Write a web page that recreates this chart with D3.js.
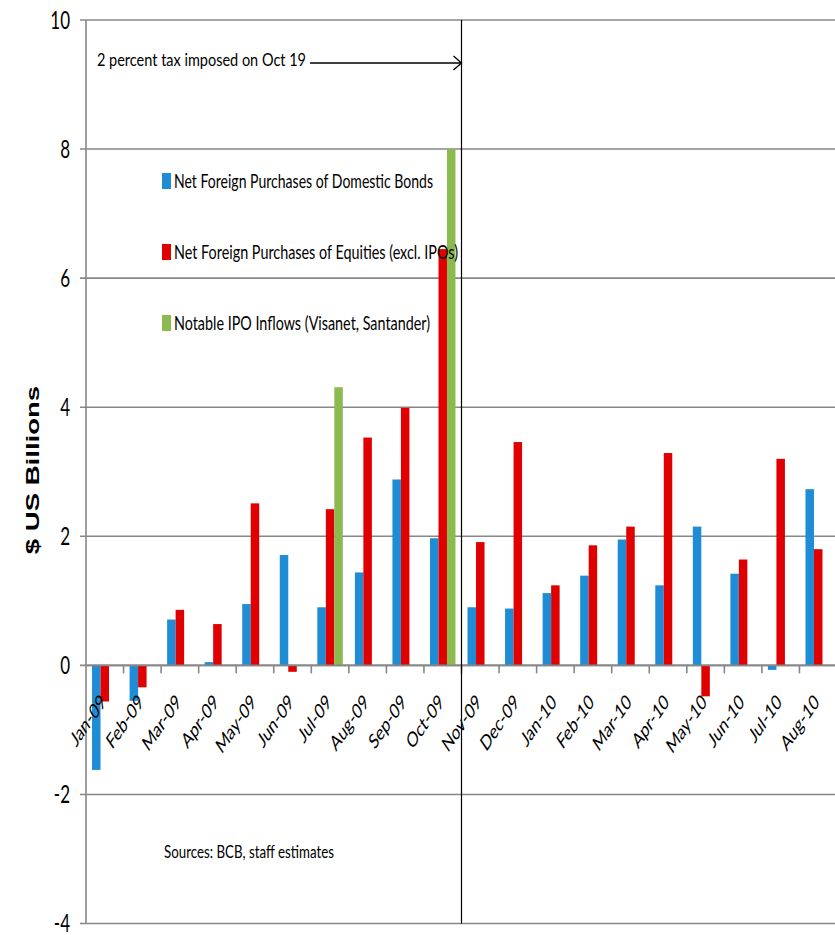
<!DOCTYPE html>
<html>
<head>
<meta charset="utf-8">
<script src="https://cdn.jsdelivr.net/npm/d3@7"></script>
<style>
  html, body { margin: 0; padding: 0; background: #fff; }
  svg { display: block; }
  text { font-family: Lato, "Open Sans", "Liberation Sans", sans-serif; fill: #000; }
</style>
</head>
<body>
<svg id="chart" width="835" height="935"></svg>
<script>
// Monthly foreign portfolio flows into Brazil, $ US billions
const months = ["Jan-09","Feb-09","Mar-09","Apr-09","May-09","Jun-09","Jul-09","Aug-09","Sep-09","Oct-09",
                "Nov-09","Dec-09","Jan-10","Feb-10","Mar-10","Apr-10","May-10","Jun-10","Jul-10","Aug-10"];
const bonds    = [-1.62,-0.55,0.71,0.05,0.95,1.71,0.90,1.44,2.88,1.97,0.90,0.88,1.12,1.39,1.95,1.24,2.15,1.42,-0.07,2.73];
const equities = [-0.56,-0.34,0.86,0.64,2.51,-0.10,2.42,3.53,3.99,6.45,1.91,3.46,1.24,1.86,2.15,3.29,-0.48,1.64,3.20,1.80];
const ipos     = [null,null,null,null,null,null,4.31,null,null,8.00,null,null,null,null,null,null,null,null,null,null];
const seriesNames = ["Net Foreign Purchases of Domestic Bonds",
                     "Net Foreign Purchases of Equities (excl. IPOs)",
                     "Notable IPO Inflows (Visanet, Santander)"];
const seriesColors = ["#1f8dd6", "#e00000", "#8bbb4f"];
const yTicks = [-4, -2, 0, 2, 4, 6, 8, 10];
const taxNote = "2 percent tax imposed on Oct 19";
const sourceNote = "Sources: BCB, staff estimates";

const svg = d3.select("#chart");
const plotLeft = 86, plotRight = 837, plotTop = 20, plotBottom = 923.5;
const S = 1.45; // tall, narrow lettering used throughout

const x = d3.scaleBand().domain(months).range([plotLeft, plotRight]).paddingInner(0).paddingOuter(0);
const xs = d3.scaleBand().domain([0, 1, 2]).range([0, x.bandwidth()]).paddingInner(0).paddingOuter(0.71);
const y = d3.scaleLinear().domain([-4, 10]).range([plotBottom, plotTop]);

const grid = "#878787";

// horizontal gridlines with short left ticks
svg.append("g").selectAll("line").data(yTicks).join("line")
  .attr("x1", plotLeft - 6).attr("x2", 835)
  .attr("y1", d => y(d)).attr("y2", d => y(d))
  .attr("stroke", grid).attr("stroke-width", 1.6);

// left axis
svg.append("line").attr("x1", plotLeft).attr("x2", plotLeft).attr("y1", plotTop).attr("y2", plotBottom)
  .attr("stroke", grid).attr("stroke-width", 1.6);

// y tick labels
svg.append("g").selectAll("text").data(yTicks).join("text")
  .attr("transform", d => `translate(70,${y(d)}) scale(1,${S})`)
  .attr("dy", "0.36em")
  .attr("text-anchor", "end").attr("font-size", 17)
  .text(d => d);

// y axis title
svg.append("text")
  .attr("transform", `translate(39,470) scale(1,${S}) rotate(-90)`)
  .attr("text-anchor", "middle")
  .style("font-family", "'Liberation Sans', Arial, sans-serif")
  .attr("font-weight", "bold").attr("font-size", 19)
  .text("$ US Billions");

// bars
const seriesData = [bonds, equities, ipos];
seriesData.forEach((vals, si) => {
  svg.append("g").selectAll("rect")
    .data(vals.map((v, i) => ({ m: months[i], v })).filter(d => d.v !== null))
    .join("rect")
    .attr("x", d => x(d.m) + xs(si))
    .attr("width", xs.bandwidth())
    .attr("y", d => y(Math.max(0, d.v)))
    .attr("height", d => Math.abs(y(d.v) - y(0)))
    .attr("fill", seriesColors[si]);
});

// x axis line at zero with tick marks on category boundaries
svg.append("line").attr("x1", plotLeft).attr("x2", 835).attr("y1", y(0)).attr("y2", y(0))
  .attr("stroke", grid).attr("stroke-width", 1.6);
svg.append("g").selectAll("line").data(months.slice(1)).join("line")
  .attr("x1", d => x(d)).attr("x2", d => x(d))
  .attr("y1", y(0)).attr("y2", y(0) + 8)
  .attr("stroke", grid).attr("stroke-width", 1.6);

// x tick labels, rotated
svg.append("g").selectAll("text").data(months).join("text")
  .attr("transform", d => `translate(${x(d) + x.bandwidth() / 2 + 2},${y(0) + 38}) scale(1,${S}) rotate(-45)`)
  .attr("text-anchor", "end").attr("font-size", 14.5)
  .text(d => d);

// policy line between Oct-09 and Nov-09
const policyX = x("Nov-09");
svg.append("line").attr("x1", policyX).attr("x2", policyX).attr("y1", plotTop).attr("y2", plotBottom)
  .attr("stroke", "#000").attr("stroke-width", 1.2);

// annotation with arrow
svg.append("text")
  .attr("transform", `translate(97,65.5) scale(1,${S})`)
  .attr("font-size", 12)
  .attr("textLength", 209).attr("lengthAdjust", "spacingAndGlyphs")
  .text(taxNote);
svg.append("line").attr("x1", 310).attr("x2", policyX).attr("y1", 63).attr("y2", 63)
  .attr("stroke", "#000").attr("stroke-width", 1.3);
svg.append("path")
  .attr("d", `M${policyX - 8},56 L${policyX},63 L${policyX - 8},70`)
  .attr("fill", "none").attr("stroke", "#000").attr("stroke-width", 1.3);

// legend
const legendRows = [188, 259, 330];
const legendWidths = [259, 284, 256];
seriesNames.forEach((name, i) => {
  svg.append("rect").attr("x", 162).attr("y", legendRows[i] - 15)
    .attr("width", 9).attr("height", 16).attr("fill", seriesColors[i]);
  svg.append("text")
    .attr("transform", `translate(174,${legendRows[i]}) scale(1,${S})`)
    .attr("font-size", 12.8)
    .attr("textLength", legendWidths[i]).attr("lengthAdjust", "spacingAndGlyphs")
    .text(name);
});

// source note
svg.append("text")
  .attr("transform", `translate(164,857.5) scale(1,${S})`)
  .attr("font-size", 12.5)
  .attr("textLength", 170).attr("lengthAdjust", "spacingAndGlyphs")
  .text(sourceNote);
</script>
</body>
</html>
